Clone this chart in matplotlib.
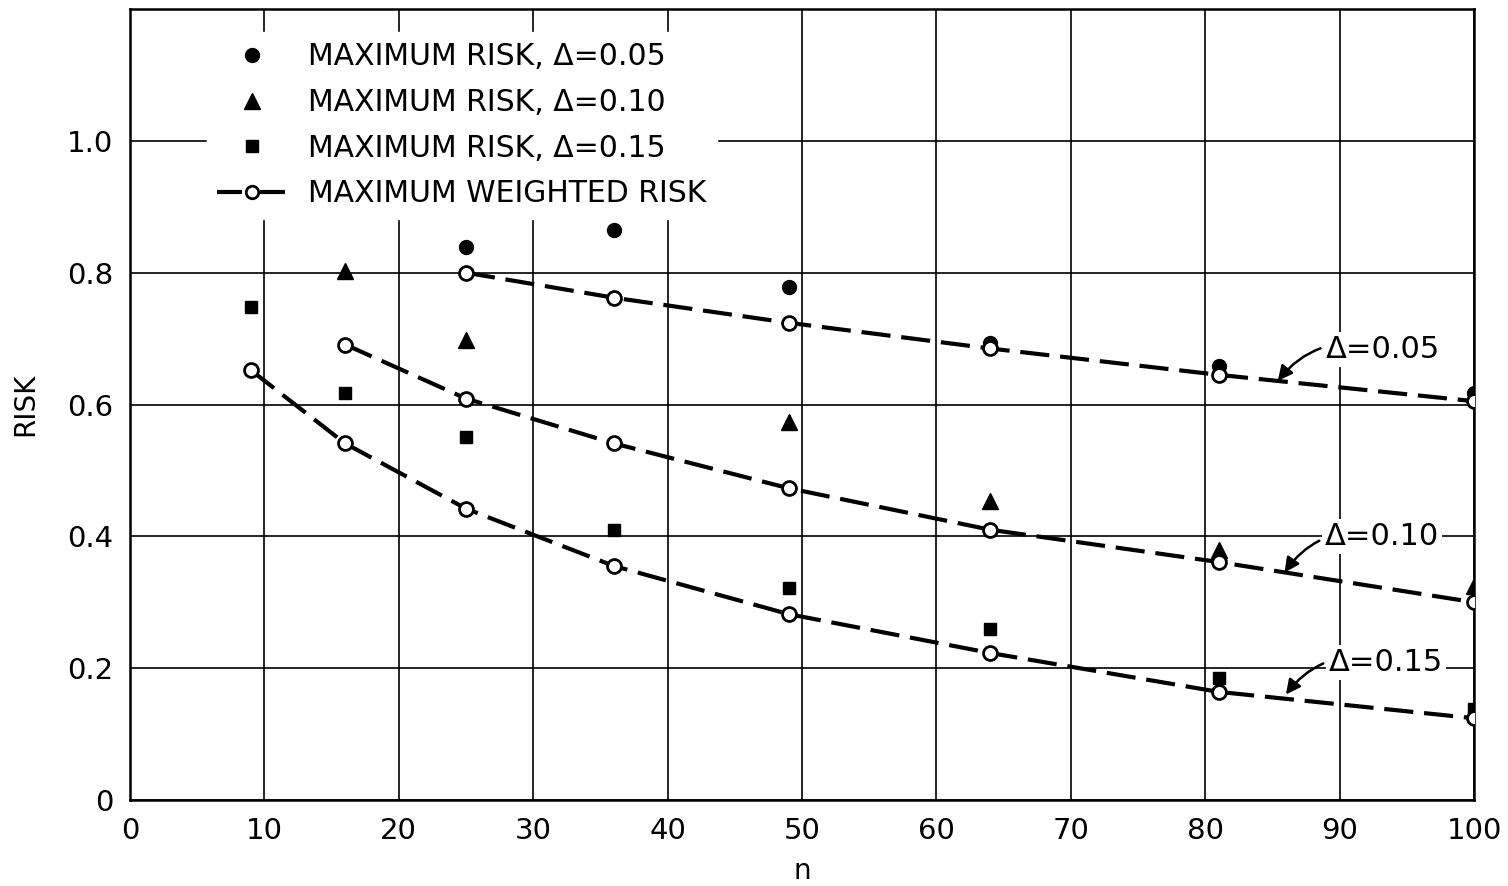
import matplotlib
matplotlib.use("Agg")
import matplotlib.pyplot as plt
from matplotlib.lines import Line2D

plt.rcParams['font.family'] = ['DejaVu Sans']

# sample sizes
n_all = [9, 16, 25, 36, 49, 64, 81, 100]

# maximum risk (filled markers)
n_d05 = [25, 36, 49, 64, 81, 100]
risk_d05 = [0.839, 0.865, 0.779, 0.694, 0.658, 0.617]
n_d10 = [16, 25, 49, 64, 81, 100]
risk_d10 = [0.803, 0.698, 0.574, 0.453, 0.380, 0.324]
n_d15 = [9, 16, 25, 36, 49, 64, 81, 100]
risk_d15 = [0.748, 0.617, 0.550, 0.410, 0.321, 0.259, 0.185, 0.138]

# maximum weighted risk (open circles on dashed curves)
wn_d05 = [25, 36, 49, 64, 81, 100]
wrisk_d05 = [0.800, 0.762, 0.724, 0.685, 0.645, 0.605]
wn_d10 = [16, 25, 36, 49, 64, 81, 100]
wrisk_d10 = [0.691, 0.609, 0.541, 0.473, 0.410, 0.361, 0.300]
wn_d15 = [9, 16, 25, 36, 49, 64, 81, 100]
wrisk_d15 = [0.652, 0.541, 0.442, 0.355, 0.282, 0.223, 0.164, 0.124]

labels = ["MAXIMUM RISK, \u0394=0.05", "MAXIMUM RISK, \u0394=0.10",
          "MAXIMUM RISK, \u0394=0.15", "MAXIMUM WEIGHTED RISK"]

fig = plt.figure(figsize=(15.08, 8.86), dpi=100)
ax = fig.add_axes([0.0862, 0.0971, 0.8913, 0.8927])

dash = (0, (7, 2.6))
for xs, ys in [(wn_d05, wrisk_d05), (wn_d10, wrisk_d10), (wn_d15, wrisk_d15)]:
    ax.plot(xs, ys, color="black", lw=3, linestyle=dash, zorder=3)
    ax.plot(xs, ys, linestyle="none", marker="o", ms=10, mfc="white",
            mec="black", mew=2, zorder=5)

ax.plot(n_d05, risk_d05, linestyle="none", marker="o", ms=10, color="black", zorder=4)
ax.plot(n_d10, risk_d10, linestyle="none", marker="^", ms=11, color="black", zorder=4)
ax.plot(n_d15, risk_d15, linestyle="none", marker="s", ms=8.5, color="black", zorder=4)

ax.set_xlim(0, 100)
ax.set_ylim(0, 1.2)
ax.set_xticks(range(0, 101, 10))
ax.set_yticks([0, 0.2, 0.4, 0.6, 0.8, 1.0, 1.2])
ax.set_yticklabels(["0", "0.2", "0.4", "0.6", "0.8", "1.0", ""])
ax.grid(True, color="black", lw=1.2)
ax.set_axisbelow(True)
ax.tick_params(length=0, labelsize=21, pad=12)
for s in ax.spines.values():
    s.set_linewidth(1.8)

ax.set_xlabel("n", fontsize=20, labelpad=9)
ax.set_ylabel("RISK", fontsize=20, labelpad=20)

handles = [
    Line2D([], [], linestyle="none", marker="o", ms=10, color="black"),
    Line2D([], [], linestyle="none", marker="^", ms=11, color="black"),
    Line2D([], [], linestyle="none", marker="s", ms=8.5, color="black"),
    Line2D([], [], color="black", lw=3, linestyle=(0, (6, 4.3)), marker="o",
           ms=9, mfc="white", mec="black", mew=2),
]
leg = ax.legend(handles, labels, loc="upper left", bbox_to_anchor=(0.046, 0.99),
                fontsize=21.5, frameon=True, framealpha=1, edgecolor="white",
                fancybox=False, handlelength=2.3, handletextpad=0.75,
                labelspacing=0.56, borderpad=0.35)
leg.set_zorder(6)

notes = [("\u0394=0.05", (85.4, 0.636), (89.0, 0.683)),
         ("\u0394=0.10", (85.9, 0.345), (88.9, 0.400)),
         ("\u0394=0.15", (86.0, 0.160), (89.2, 0.209))]
for txt, tip, pos in notes:
    ax.annotate(txt, xy=tip, xytext=pos, fontsize=22, va="center", ha="left",
                bbox=dict(boxstyle="square,pad=0.1", fc="white", ec="none"),
                arrowprops=dict(arrowstyle="-|>", color="black", lw=1.8,
                                mutation_scale=22, shrinkA=2, shrinkB=0,
                                connectionstyle="arc3,rad=0.35"),
                zorder=6)

fig.savefig("out.png", dpi=100, facecolor="white")
